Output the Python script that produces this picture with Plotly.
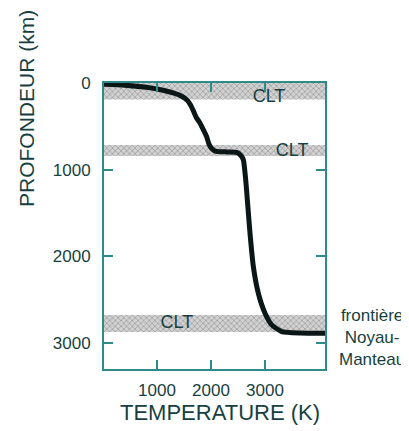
import plotly.graph_objects as go

# Geotherm (temperature K vs depth km)
temperature = [20, 400, 800, 1000, 1300, 1450, 1555, 1620, 1667, 1730, 1796, 1860, 1920, 1960, 2013,
               2100, 2300, 2475, 2560, 2600, 2640, 2673, 2722, 2784, 2876, 3000, 3124, 3309, 3648, 4110]
depth = [15, 25, 50, 70, 115, 150, 196, 250, 311, 400, 461, 540, 619, 700, 755,
         790, 795, 800, 840, 888, 1100, 1350, 1734, 2119, 2426, 2657, 2791, 2868, 2885, 2887]

# Thermal boundary layers (CLT)
clt_top = [0, 715, 2677]
clt_bottom = [190, 842, 2873]
clt_label_x = [3074, 3500, 1370]
clt_label_y = [162, 796, 2780]

x_ticks = [1000, 2000, 3000]
y_ticks = [0, 1000, 2000, 3000]
x_range = [20, 4110]
y_range = [3300, 0]

TEXT = "#173f41"
FRAME = "#2e8b8c"
FONT = "Liberation Sans, Arial, sans-serif"

fig = go.Figure()

for t, b in zip(clt_top, clt_bottom):
    fig.add_trace(go.Scatter(
        x=[x_range[0], x_range[1], x_range[1], x_range[0], x_range[0]],
        y=[t, t, b, b, t],
        mode="lines", fill="toself",
        fillcolor="rgba(0,0,0,0)",
        fillpattern=dict(shape="x", fgcolor="#7a7a7a", bgcolor="#d2d2d2", size=4, solidity=0.4),
        line=dict(width=0), hoverinfo="skip", showlegend=False,
    ))

fig.add_trace(go.Scatter(
    x=temperature, y=depth, mode="lines",
    line=dict(color="#0b1616", width=5, shape="spline", smoothing=0.5),
    showlegend=False,
))

fig.add_trace(go.Scatter(
    x=clt_label_x, y=clt_label_y, mode="text", text=["CLT"] * 3,
    textfont=dict(family=FONT, size=18, color=TEXT),
    textposition="middle center", showlegend=False, hoverinfo="skip",
))

# the page places the figure 8 px from the top-left corner
OFF = 8
W, H = 409 - OFF, 431 - OFF
L, T = 104 - OFF, 83 - OFF
pw, ph = 221, 286
R, B = W - L - pw, H - T - ph


def px_x(x):
    return (x - OFF - L) / pw


def px_y(y):
    return (H - B - (y - OFF)) / ph


fig.update_layout(
    width=W, height=H,
    margin=dict(l=L, r=R, t=T, b=B, autoexpand=False),
    plot_bgcolor="white", paper_bgcolor="white",
    font=dict(family=FONT, color=TEXT, size=17),
    xaxis=dict(range=x_range, tickvals=x_ticks, ticks="inside", ticklen=9, tickwidth=2,
               tickcolor=FRAME, showline=True, linecolor=FRAME, linewidth=2, mirror="ticks",
               showgrid=False, zeroline=False, ticklabelstandoff=5, automargin=False,
               tickfont=dict(size=17, color=TEXT)),
    yaxis=dict(range=y_range, tickvals=y_ticks, ticks="inside", ticklen=9, tickwidth=2,
               tickcolor=FRAME, showline=True, linecolor=FRAME, linewidth=2, mirror="ticks",
               showgrid=False, zeroline=False, ticklabelstandoff=8, automargin=False,
               tickfont=dict(size=17, color=TEXT)),
    annotations=[
        dict(text="PROFONDEUR (km)", textangle=-90, xref="paper", yref="paper",
             x=px_x(26), y=px_y(109), showarrow=False,
             font=dict(size=21, color=TEXT), xanchor="center", yanchor="middle"),
        dict(text="TEMPERATURE (K)", xref="paper", yref="paper",
             x=px_x(220), y=px_y(413), showarrow=False,
             font=dict(size=22, color=TEXT), xanchor="center", yanchor="middle"),
        dict(text="frontière<br>Noyau-<br>Manteau", xref="paper", yref="paper",
             x=px_x(372), y=px_y(337), showarrow=False,
             font=dict(size=17, color=TEXT), xanchor="center", yanchor="middle", align="center"),
    ],
)

fig.write_html("out.html")
